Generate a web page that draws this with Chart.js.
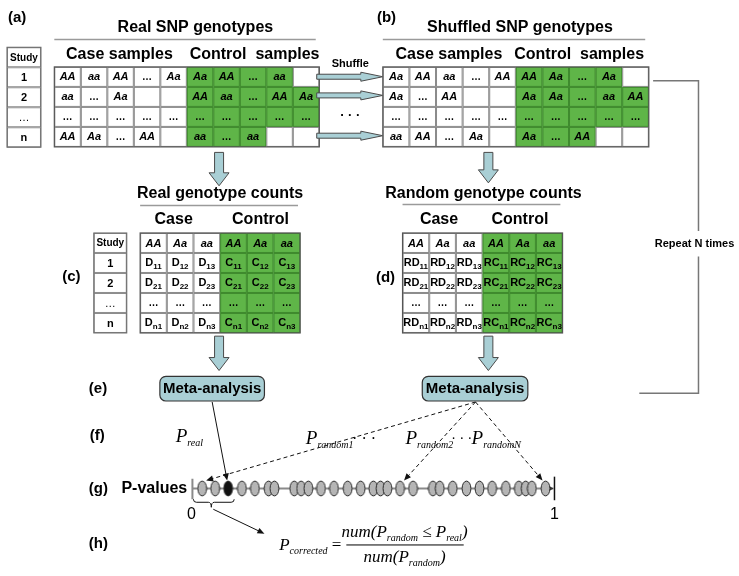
<!DOCTYPE html>
<html>
<head>
<meta charset="utf-8">
<script src="https://cdn.jsdelivr.net/npm/chart.js@4.4.0/dist/chart.umd.min.js"></script>
<style>html,body{margin:0;padding:0;background:#fff}canvas{display:block}</style>
</head>
<body>
<canvas id="c" width="739" height="576"></canvas>
<script>
// ---- data ----
var studyLabels = ['1', '2', '…', 'n'];
var realCaseRows = [['AA','aa','AA','…','Aa'], ['aa','…','Aa','',''], ['…','…','…','…','…'], ['AA','Aa','…','AA','']];
var realControlRows = [['Aa','AA','…','aa',''], ['AA','aa','…','AA','Aa'], ['…','…','…','…','…'], ['aa','…','aa','','']];
var shuffledCaseRows = [['Aa','AA','aa','…','AA'], ['Aa','…','AA','',''], ['…','…','…','…','…'], ['aa','AA','…','Aa','']];
var shuffledControlRows = [['AA','Aa','…','Aa',''], ['Aa','Aa','…','aa','AA'], ['…','…','…','…','…'], ['Aa','…','AA','','']];
var genotypeHeaders = ['AA', 'Aa', 'aa'];
var countRowKeys = ['1', '2', '…', 'n'];
var pRandom = [0.027, 0.063, 0.137, 0.173, 0.211, 0.227, 0.282, 0.301, 0.321, 0.356, 0.392, 0.430, 0.466,
  0.501, 0.521, 0.540, 0.575, 0.611, 0.666, 0.685, 0.721, 0.759, 0.795, 0.830, 0.868, 0.904, 0.923, 0.940, 0.978];
var pReal = 0.099;
var pointerTargets = [0, 16, 28];
var axisTicks = ['0', '1'];

// ---- layout ----
var SANS = '"Liberation Sans", Arial, sans-serif';
var SERIF = '"Liberation Serif", "Times New Roman", serif';
var GREEN = '#5fb548', GREEN_LINE = '#3f8a2e', ARROW_FILL = '#a9cfd5';
var AXIS_Y = 492;
var P_LEFT = 190, P_RIGHT = 556;

function ellipseImg(fill) {
  var cv = document.createElement('canvas');
  cv.width = 11; cv.height = 17;
  var g = cv.getContext('2d');
  g.beginPath();
  g.ellipse(5.5, 8.5, 4.4, 7.4, 0, 0, Math.PI * 2);
  g.fillStyle = fill; g.fill();
  g.lineWidth = 1; g.strokeStyle = '#2a2a2a'; g.stroke();
  return cv;
}

function txt(ctx, s, x, y, font, align, color) {
  ctx.font = font;
  ctx.textAlign = align || 'center';
  ctx.textBaseline = 'middle';
  ctx.fillStyle = color || '#000';
  ctx.fillText(s, x, y);
}

// parts: [text, font, dy]
function rich(ctx, parts, x, y, align) {
  ctx.textBaseline = 'alphabetic';
  ctx.textAlign = 'left';
  var w = 0;
  parts.forEach(function (p) { ctx.font = p[1]; w += ctx.measureText(p[0]).width; });
  var cx = align === 'left' ? x : x - w / 2;
  ctx.fillStyle = '#000';
  parts.forEach(function (p) {
    ctx.font = p[1];
    ctx.fillText(p[0], cx, y + (p[2] || 0));
    cx += ctx.measureText(p[0]).width;
  });
  return w;
}

function blockArrow(ctx, x1, y1, x2, y2, shaft, headW, headL) {
  var len = Math.hypot(x2 - x1, y2 - y1);
  ctx.save();
  ctx.translate(x1, y1);
  ctx.rotate(Math.atan2(y2 - y1, x2 - x1));
  ctx.beginPath();
  ctx.moveTo(0, -shaft / 2);
  ctx.lineTo(len - headL, -shaft / 2);
  ctx.lineTo(len - headL, -headW / 2);
  ctx.lineTo(len, 0);
  ctx.lineTo(len - headL, headW / 2);
  ctx.lineTo(len - headL, shaft / 2);
  ctx.lineTo(0, shaft / 2);
  ctx.closePath();
  ctx.fillStyle = ARROW_FILL; ctx.fill();
  ctx.lineWidth = 1; ctx.strokeStyle = '#4a4a4a'; ctx.stroke();
  ctx.restore();
}

function pointer(ctx, x1, y1, x2, y2, dashed) {
  var a = Math.atan2(y2 - y1, x2 - x1);
  ctx.save();
  ctx.strokeStyle = '#111'; ctx.lineWidth = 1;
  if (dashed) ctx.setLineDash([4, 3]);
  ctx.beginPath();
  ctx.moveTo(x1, y1);
  ctx.lineTo(x2 - 5 * Math.cos(a), y2 - 5 * Math.sin(a));
  ctx.stroke();
  ctx.setLineDash([]);
  ctx.translate(x2, y2); ctx.rotate(a);
  ctx.beginPath();
  ctx.moveTo(0, 0); ctx.lineTo(-7, -3); ctx.lineTo(-7, 3); ctx.closePath();
  ctx.fillStyle = '#111'; ctx.fill();
  ctx.restore();
}

function rule(ctx, x1, x2, y) {
  ctx.strokeStyle = '#9a9a9a'; ctx.lineWidth = 1.5;
  ctx.beginPath(); ctx.moveTo(x1, y); ctx.lineTo(x2, y); ctx.stroke();
}

// cells: rows of {t, sub, green, italic}
function grid(ctx, x0, y0, cw, rh, cells) {
  cells.forEach(function (row, r) {
    row.forEach(function (cell, c) {
      var x = x0 + c * cw, y = y0 + r * rh;
      ctx.fillStyle = cell.green ? GREEN : '#fff';
      ctx.fillRect(x, y, cw, rh);
    });
  });
  cells.forEach(function (row, r) {
    row.forEach(function (cell, c) {
      var x = x0 + c * cw, y = y0 + r * rh;
      ctx.strokeStyle = cell.green ? GREEN_LINE : '#8a8a8a';
      ctx.lineWidth = 1;
      ctx.strokeRect(x + 0.5, y + 0.5, cw - 1, rh - 1);
      var cx = x + cw / 2, cy = y + rh / 2;
      if (!cell.t) return;
      if (cell.sub) {
        rich(ctx, [[cell.t, 'bold 11px ' + SANS, 0], [cell.sub, 'bold 8px ' + SANS, 2.5]], cx, cy + 3.5);
      } else if (cell.t === '…') {
        txt(ctx, '…', cx, cy, 'bold 10px ' + SANS);
      } else {
        txt(ctx, cell.t, cx, cy + 0.5, (cell.italic ? 'italic ' : '') + 'bold 11px ' + SANS);
      }
    });
  });
  ctx.strokeStyle = '#555'; ctx.lineWidth = 1.2;
  ctx.strokeRect(x0, y0, cw * cells[0].length, rh * cells.length);
}

function sampleCells(caseRows, controlRows) {
  return caseRows.map(function (row, r) {
    return row.map(function (t) { return { t: t, italic: true }; })
      .concat(controlRows[r].map(function (t) { return { t: t, italic: true, green: t !== '' }; }));
  });
}

function countCells(caseLetter, controlLetter) {
  var head = genotypeHeaders.map(function (g) { return { t: g, italic: true }; })
    .concat(genotypeHeaders.map(function (g) { return { t: g, italic: true, green: true }; }));
  var body = countRowKeys.map(function (k) {
    var row = [];
    [caseLetter, controlLetter].forEach(function (letter, side) {
      for (var j = 1; j <= 3; j++) {
        row.push(k === '…' ? { t: '…', green: side === 1 } : { t: letter, sub: k + j, green: side === 1 });
      }
    });
    return row;
  });
  return [head].concat(body);
}

function studyColumn(ctx, x0, y0, w, rh) {
  var labels = ['Study'].concat(studyLabels);
  labels.forEach(function (s, i) {
    ctx.fillStyle = '#fff';
    ctx.fillRect(x0, y0 + i * rh, w, rh);
    ctx.strokeStyle = '#8a8a8a'; ctx.lineWidth = 1;
    ctx.strokeRect(x0 + 0.5, y0 + i * rh + 0.5, w - 1, rh - 1);
    txt(ctx, s, x0 + w / 2, y0 + i * rh + rh / 2 + 0.5, (s === '…' ? '' : 'bold ') + (i === 0 ? '10px ' : '11px ') + SANS);
  });
  ctx.strokeStyle = '#666'; ctx.lineWidth = 1;
  ctx.strokeRect(x0, y0, w, rh * labels.length);
}

var diagram = {
  id: 'diagram',
  beforeDatasetsDraw: function (chart) {
    var ctx = chart.ctx;
    var X = function (v) { return chart.scales.x.getPixelForValue(v); };
    var Y = function (v) { return chart.scales.y.getPixelForValue(v); };
    var P = function (v) { return chart.scales.p.getPixelForValue(v); };
    ctx.save();

    // panel tags
    var tagFont = 'bold 15px ' + SANS;
    txt(ctx, '(a)', X(3), Y(13), tagFont, 'left');
    txt(ctx, '(b)', X(377), Y(13), tagFont, 'left');
    txt(ctx, '(c)', X(58), Y(277), tagFont, 'left');
    txt(ctx, '(d)', X(376), Y(278), tagFont, 'left');
    txt(ctx, '(e)', X(85), Y(391), tagFont, 'left');
    txt(ctx, '(f)', X(86), Y(438), tagFont, 'left');
    txt(ctx, '(g)', X(85), Y(492), tagFont, 'left');
    txt(ctx, '(h)', X(85), Y(548), tagFont, 'left');

    // (a) real genotypes
    var hFont = 'bold 16px ' + SANS;
    txt(ctx, 'Real SNP genotypes', X(193), Y(23), hFont);
    rule(ctx, X(50), X(315), Y(35));
    txt(ctx, 'Case samples', X(116), Y(50), hFont);
    txt(ctx, 'Control  samples', X(253), Y(50), hFont);
    studyColumn(ctx, X(2), Y(43), 34, 20);
    grid(ctx, X(50), Y(63), 26.5, 20, sampleCells(realCaseRows, realControlRows));

    // shuffle arrows
    txt(ctx, 'Shuffle', X(350), Y(60), 'bold 11px ' + SANS);
    [73, 92, 133].forEach(function (y) { blockArrow(ctx, X(316), Y(y), X(383), Y(y), 5, 9, 22); });
    txt(ctx, '· · ·', X(350), Y(112), 'bold 13px ' + SANS);

    // (b) shuffled genotypes
    txt(ctx, 'Shuffled SNP genotypes', X(522), Y(23), hFont);
    rule(ctx, X(383), X(649), Y(35));
    txt(ctx, 'Case samples', X(450), Y(50), hFont);
    txt(ctx, 'Control  samples', X(582), Y(50), hFont);
    grid(ctx, X(383), Y(63), 26.6, 20, sampleCells(shuffledCaseRows, shuffledControlRows));

    // repeat bracket
    ctx.strokeStyle = '#777'; ctx.lineWidth = 1.5;
    ctx.beginPath();
    ctx.moveTo(X(657), Y(77)); ctx.lineTo(X(703), Y(77)); ctx.lineTo(X(703), Y(230));
    ctx.moveTo(X(703), Y(256)); ctx.lineTo(X(703), Y(395)); ctx.lineTo(X(643), Y(395));
    ctx.stroke();
    txt(ctx, 'Repeat N times', X(699), Y(243), 'bold 11px ' + SANS);

    // down arrows
    blockArrow(ctx, X(217), Y(150), X(217), Y(184), 9, 20, 13);
    blockArrow(ctx, X(490), Y(150), X(490), Y(181), 9, 20, 13);
    blockArrow(ctx, X(217), Y(337), X(217), Y(372), 9, 20, 13);
    blockArrow(ctx, X(490), Y(337), X(490), Y(372), 9, 20, 13);

    // (c) real counts
    txt(ctx, 'Real genotype counts', X(218), Y(192), hFont);
    rule(ctx, X(137), X(297), Y(204));
    txt(ctx, 'Case', X(171), Y(218), hFont);
    txt(ctx, 'Control', X(259), Y(218), hFont);
    studyColumn(ctx, X(90), Y(232), 33, 20);
    grid(ctx, X(137), Y(232), 26.67, 20, countCells('D', 'C'));

    // (d) random counts
    txt(ctx, 'Random genotype counts', X(485), Y(192), hFont);
    rule(ctx, X(403), X(563), Y(203));
    txt(ctx, 'Case', X(440), Y(218), hFont);
    txt(ctx, 'Control', X(522), Y(218), hFont);
    grid(ctx, X(403), Y(232), 26.67, 20, countCells('RD', 'RC'));

    // meta-analysis boxes
    [[157, 263], [423, 530]].forEach(function (b) {
      ctx.beginPath();
      ctx.roundRect(X(b[0]), Y(378), X(b[1]) - X(b[0]), Y(403) - Y(378), 6);
      ctx.fillStyle = ARROW_FILL; ctx.fill();
      ctx.lineWidth = 1.2; ctx.strokeStyle = '#333'; ctx.stroke();
      txt(ctx, 'Meta-analysis', (X(b[0]) + X(b[1])) / 2, Y(391), 'bold 15px ' + SANS);
    });

    // p labels
    var pf = 'italic 19px ' + SERIF, sf = 'italic 10px ' + SERIF;
    rich(ctx, [['P', pf, 0], ['real', sf, 4]], X(173), Y(445), 'left');
    rich(ctx, [['P', pf, 0], ['random1', sf, 4]], X(305), Y(447), 'left');
    txt(ctx, '· · ·', X(364), Y(442), '16px ' + SERIF);
    rich(ctx, [['P', pf, 0], ['random2', sf, 4]], X(406), Y(447), 'left');
    txt(ctx, '· · ·', X(463), Y(442), '14px ' + SERIF);
    rich(ctx, [['P', pf, 0], ['randomN', sf, 4]], X(473), Y(447), 'left');

    // p-value axis
    txt(ctx, 'P-values', X(118), Y(492), 'bold 16px ' + SANS, 'left');
    ctx.strokeStyle = '#8a8a8a'; ctx.lineWidth = 2;
    ctx.beginPath();
    ctx.moveTo(P(0), Y(AXIS_Y)); ctx.lineTo(P(1), Y(AXIS_Y));
    ctx.moveTo(P(0), Y(482)); ctx.lineTo(P(0), Y(503));
    ctx.stroke();
    ctx.strokeStyle = '#111'; ctx.lineWidth = 1.5;
    ctx.beginPath(); ctx.moveTo(P(1) + 1, Y(480)); ctx.lineTo(P(1) + 1, Y(504)); ctx.stroke();
    ctx.beginPath();
    ctx.moveTo(P(1), Y(AXIS_Y)); ctx.lineTo(P(1) - 7, Y(AXIS_Y) - 4); ctx.lineTo(P(1) - 7, Y(AXIS_Y) + 4); ctx.closePath();
    ctx.fillStyle = '#333'; ctx.fill();
    txt(ctx, axisTicks[0], P(0) - 1, Y(519), '16px ' + SANS);
    txt(ctx, axisTicks[1], P(1) + 1, Y(519), '16px ' + SANS);

    // brace under p-values <= P_real
    var bx0 = P(0) + 1, bx1 = P(pReal) + 6, bm = P(pReal / 2) + 1, by = Y(503);
    ctx.strokeStyle = '#111'; ctx.lineWidth = 1;
    ctx.beginPath();
    ctx.moveTo(bx0, by);
    ctx.quadraticCurveTo(bx0, by + 3, bx0 + 3, by + 3);
    ctx.lineTo(bm - 3, by + 3);
    ctx.quadraticCurveTo(bm, by + 3, bm, by + 8);
    ctx.quadraticCurveTo(bm, by + 3, bm + 3, by + 3);
    ctx.lineTo(bx1 - 3, by + 3);
    ctx.quadraticCurveTo(bx1, by + 3, bx1, by);
    ctx.stroke();
    pointer(ctx, bm + 2, by + 10, X(263), Y(538), false);

    // formula
    var ff = 'italic 17px ' + SERIF, fs = 'italic 10px ' + SERIF;
    rich(ctx, [['P', ff, 0], ['corrected', fs, 4], [' =', '17px ' + SERIF, 0]], X(278), Y(555), 'left');
    rich(ctx, [['num(', ff, 0], ['P', ff, 0], ['random', fs, 4], [' ≤ ', '17px ' + SERIF, 0], ['P', ff, 0], ['real', fs, 4], [')', ff, 0]], X(405), Y(541));
    ctx.strokeStyle = '#000'; ctx.lineWidth = 1;
    ctx.beginPath(); ctx.moveTo(X(346), Y(549.5)); ctx.lineTo(X(465), Y(549.5)); ctx.stroke();
    rich(ctx, [['num(', ff, 0], ['P', ff, 0], ['random', fs, 4], [')', ff, 0]], X(405), Y(567));

    ctx.restore();
  },
  afterDatasetsDraw: function (chart) {
    var ctx = chart.ctx;
    var X = function (v) { return chart.scales.x.getPixelForValue(v); };
    var Y = function (v) { return chart.scales.y.getPixelForValue(v); };
    var P = function (v) { return chart.scales.p.getPixelForValue(v); };
    // real p-value pointer
    pointer(ctx, X(210), Y(404), P(pReal) - 1, Y(AXIS_Y) - 8, false);
    // random p-value pointers
    var sx = X(477), sy = Y(404);
    pointerTargets.forEach(function (i) {
      var px = P(pRandom[i]);
      var dx = px > sx ? -3 : 4;
      pointer(ctx, sx, sy, px + dx, Y(AXIS_Y) - 8, true);
    });
  }
};

var chart = new Chart(document.getElementById('c'), {
  type: 'scatter',
  data: {
    datasets: [{
      label: 'Random P-values',
      data: pRandom.map(function (p) { return { x: p, y: AXIS_Y }; }),
      xAxisID: 'p', yAxisID: 'y',
      pointStyle: ellipseImg('#b5b5b5')
    }, {
      label: 'Real P-value',
      data: [{ x: pReal, y: AXIS_Y }],
      xAxisID: 'p', yAxisID: 'y',
      pointStyle: ellipseImg('#111')
    }]
  },
  options: {
    responsive: false,
    animation: false,
    events: [],
    devicePixelRatio: 1,
    layout: { padding: 0 },
    plugins: { legend: { display: false }, tooltip: { enabled: false } },
    scales: {
      x: { type: 'linear', min: 0, max: 739, display: false },
      y: { type: 'linear', min: 0, max: 576, reverse: true, display: false },
      p: {
        type: 'linear', axis: 'x', display: false,
        min: -P_LEFT / (P_RIGHT - P_LEFT),
        max: (739 - P_LEFT) / (P_RIGHT - P_LEFT)
      }
    }
  },
  plugins: [diagram]
});
</script>
</body>
</html>
